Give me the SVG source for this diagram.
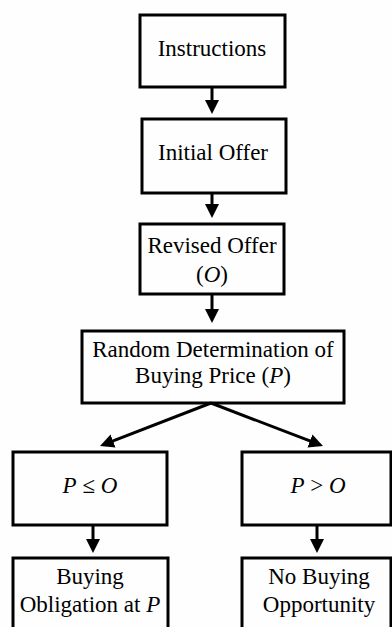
<svg xmlns="http://www.w3.org/2000/svg" width="392" height="627" viewBox="0 0 392 627">
<style>
.box{fill:none;stroke:#000;stroke-width:3}
.conn{fill:none;stroke:#000;stroke-width:3}
.it{font-style:italic}
</style>
<defs>
<marker id="ah" viewBox="0 0 14 14" markerWidth="14" markerHeight="14" refX="2" refY="7" orient="auto" markerUnits="userSpaceOnUse">
<path d="M0,0 L14,7 L0,14 Z" fill="#000"/>
</marker>
</defs>
<rect width="392" height="627" fill="#fefefe"/>
<g id="connectors">
<line class="conn" x1="212" y1="87" x2="212" y2="102" marker-end="url(#ah)"/>
<line class="conn" x1="212" y1="193" x2="212" y2="206" marker-end="url(#ah)"/>
<line class="conn" x1="212" y1="294" x2="212" y2="311" marker-end="url(#ah)"/>
<line class="conn" x1="211" y1="403" x2="111.2" y2="441.7" marker-end="url(#ah)"/>
<line class="conn" x1="211" y1="403" x2="311.8" y2="441.7" marker-end="url(#ah)"/>
<line class="conn" x1="93" y1="525" x2="93" y2="541" marker-end="url(#ah)"/>
<line class="conn" x1="317" y1="525" x2="317" y2="541" marker-end="url(#ah)"/>
</g>
<g id="instructions">
<rect class="box" x="140" y="15" width="145" height="72"/>
<text x="212" y="56" text-anchor="middle" font-family="Liberation Serif" font-size="23">Instructions</text>
</g>
<g id="initial-offer">
<rect class="box" x="142" y="119" width="144" height="74"/>
<text x="213" y="160" text-anchor="middle" font-family="Liberation Serif" font-size="23">Initial Offer</text>
</g>
<g id="revised-offer">
<rect class="box" x="140" y="224" width="144" height="70"/>
<text x="212" y="253" text-anchor="middle" font-family="Liberation Serif" font-size="23">Revised Offer</text>
<text x="212" y="282" text-anchor="middle" font-family="Liberation Serif" font-size="23">(<tspan class="it">O</tspan>)</text>
</g>
<g id="random-price">
<rect class="box" x="82" y="331" width="262" height="72"/>
<text x="213" y="357" text-anchor="middle" font-family="Liberation Serif" font-size="23">Random Determination of</text>
<text x="213" y="383" text-anchor="middle" font-family="Liberation Serif" font-size="23">Buying Price (<tspan class="it">P</tspan>)</text>
</g>
<g id="p-le-o">
<rect class="box" x="13" y="452" width="154" height="73"/>
<text x="90" y="493" text-anchor="middle" font-family="Liberation Serif" font-size="23"><tspan class="it">P</tspan> ≤ <tspan class="it">O</tspan></text>
</g>
<g id="p-gt-o">
<rect class="box" x="242" y="452" width="149" height="73"/>
<text x="318" y="493" text-anchor="middle" font-family="Liberation Serif" font-size="23"><tspan class="it">P</tspan> &gt; <tspan class="it">O</tspan></text>
</g>
<g id="buying-obligation">
<rect class="box" x="13" y="558" width="155" height="80"/>
<text x="90" y="584" text-anchor="middle" font-family="Liberation Serif" font-size="23">Buying</text>
<text x="90" y="612" text-anchor="middle" font-family="Liberation Serif" font-size="23">Obligation at <tspan class="it">P</tspan></text>
</g>
<g id="no-buying">
<rect class="box" x="242" y="558" width="149" height="80"/>
<text x="319" y="584" text-anchor="middle" font-family="Liberation Serif" font-size="23">No Buying</text>
<text x="319" y="612" text-anchor="middle" font-family="Liberation Serif" font-size="23">Opportunity</text>
</g>
</svg>
